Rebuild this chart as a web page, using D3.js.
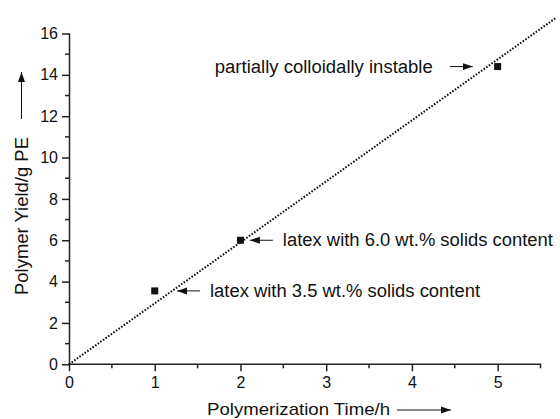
<html>
<head>
<meta charset="utf-8">
<script src="https://d3js.org/d3.v7.min.js"></script>
<style>
body { margin: 0; background: #fff; }
text { font-family: "Liberation Sans", Arial, sans-serif; fill: #111; }
.axis path, .axis line { stroke: #222; stroke-width: 1.5px; }
</style>
</head>
<body>
<svg id="chart" width="560" height="419"></svg>
<script>
// data
const times = [1, 2, 5];
const yields = [3.55, 6.0, 14.4];
const fitSlope = 2.95;
const fitRange = [0, 5.68];
const xTicks = [0, 1, 2, 3, 4, 5];
const yTicks = [0, 2, 4, 6, 8, 10, 12, 14, 16];
// arrow tip (data units) and label for each note
const notes = [
  { tip: 4.71, y: 14.4, text: "partially colloidally instable", side: "left", len: 218 },
  { tip: 2.11, y: 6.0, text: "latex with 6.0 wt.% solids content", side: "right", len: 270 },
  { tip: 1.26, y: 3.55, text: "latex with 3.5 wt.% solids content", side: "right", len: 270 }
];

const svg = d3.select("#chart");
const x = d3.scaleLinear().domain([0, 5.5]).range([69, 540.5]);
const y = d3.scaleLinear().domain([0, 16]).range([364.3, 33.5]);

svg.append("defs").append("marker")
  .attr("id", "arr")
  .attr("viewBox", "0 -4 10 8")
  .attr("refX", 10).attr("refY", 0)
  .attr("markerWidth", 10).attr("markerHeight", 8)
  .attr("markerUnits", "userSpaceOnUse")
  .attr("orient", "auto")
  .append("path").attr("d", "M0,-3.5L10,0L0,3.5Z").attr("fill", "#111");

// axes with minor ticks
const xMinor = d3.range(0.5, 5.6, 1);
const yMinor = d3.range(1, 16, 2);

const gx = svg.append("g").attr("class", "axis").attr("transform", `translate(0,${y(0)})`);
gx.call(d3.axisBottom(x).tickValues(xTicks).tickFormat(d3.format("d"))
  .tickSize(7).tickPadding(5).tickSizeOuter(0));
gx.selectAll(".minor").data(xMinor).enter().append("line")
  .attr("x1", d => x(d)).attr("x2", d => x(d)).attr("y1", 0).attr("y2", 4)
  .attr("stroke", "#222").attr("stroke-width", 1.5);
gx.select(".domain").attr("d", `M${x(0)},0H${x(5.5)}`);

const gy = svg.append("g").attr("class", "axis").attr("transform", `translate(${x(0)},0)`);
gy.call(d3.axisLeft(y).tickValues(yTicks).tickFormat(d3.format("d"))
  .tickSize(7).tickPadding(4).tickSizeOuter(0));
gy.selectAll(".minor").data(yMinor).enter().append("line")
  .attr("y1", d => y(d)).attr("y2", d => y(d)).attr("x1", 0).attr("x2", -4)
  .attr("stroke", "#222").attr("stroke-width", 1.5);

svg.selectAll(".axis text").style("font-size", "16px").attr("fill", "#111");
svg.selectAll(".axis .domain").attr("stroke-linecap", "square");

// fitted line
svg.append("line")
  .attr("x1", x(fitRange[0])).attr("y1", y(fitRange[0] * fitSlope))
  .attr("x2", x(fitRange[1])).attr("y2", y(fitRange[1] * fitSlope))
  .attr("stroke", "#111").attr("stroke-width", 2)
  .attr("stroke-dasharray", "1.6,1.6");

// data points
svg.selectAll(".pt").data(times).enter().append("rect")
  .attr("class", "pt")
  .attr("x", d => x(d) - 3.5)
  .attr("y", (d, i) => y(yields[i]) - 3.5)
  .attr("width", 7).attr("height", 7)
  .attr("fill", "#111");

// annotations
notes.forEach(n => {
  const py = y(n.y);
  const tip = x(n.tip);
  if (n.side === "left") {
    svg.append("line").attr("x1", tip - 23).attr("x2", tip).attr("y1", py).attr("y2", py)
      .attr("stroke", "#111").attr("stroke-width", 1).attr("marker-end", "url(#arr)");
    svg.append("text").attr("x", tip - 258).attr("y", py + 6)
      .attr("textLength", n.len).attr("lengthAdjust", "spacingAndGlyphs")
      .style("font-size", "18px").text(n.text);
  } else {
    svg.append("line").attr("x1", tip + 23).attr("x2", tip).attr("y1", py).attr("y2", py)
      .attr("stroke", "#111").attr("stroke-width", 1).attr("marker-end", "url(#arr)");
    svg.append("text").attr("x", tip + 33).attr("y", py + 6)
      .attr("textLength", n.len).attr("lengthAdjust", "spacingAndGlyphs")
      .style("font-size", "18px").text(n.text);
  }
});

// axis titles with arrows
svg.append("text").attr("x", 207).attr("y", 415)
  .attr("textLength", 183).attr("lengthAdjust", "spacingAndGlyphs")
  .style("font-size", "17px").text("Polymerization Time/h");
svg.append("line").attr("x1", 397).attr("x2", 451).attr("y1", 410).attr("y2", 410)
  .attr("stroke", "#111").attr("stroke-width", 1).attr("marker-end", "url(#arr)");

svg.append("text").attr("transform", "translate(28,295) rotate(-90)")
  .attr("textLength", 158).attr("lengthAdjust", "spacingAndGlyphs")
  .style("font-size", "18px").text("Polymer Yield/g PE");
svg.append("line").attr("x1", 21.5).attr("x2", 21.5).attr("y1", 119).attr("y2", 72)
  .attr("stroke", "#111").attr("stroke-width", 1).attr("marker-end", "url(#arr)");
</script>
</body>
</html>
